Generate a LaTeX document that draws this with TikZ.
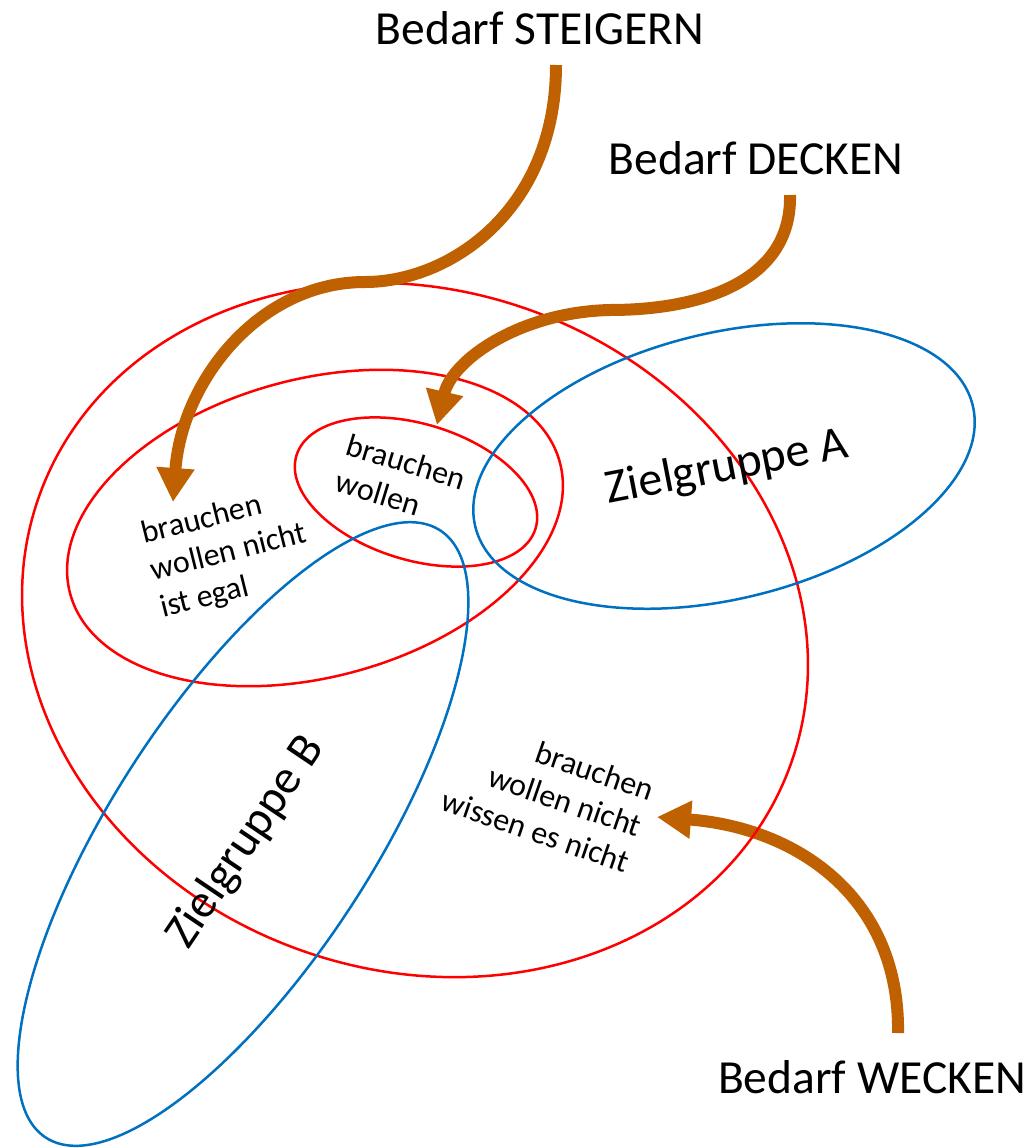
\documentclass[tikz,border=0pt]{standalone}
\usepackage{fontspec}
\setmainfont{Carlito}
\usetikzlibrary{arrows.meta}
\definecolor{arrowbrown}{RGB}{191,97,0}
\definecolor{zblue}{RGB}{0,112,192}
\begin{document}
\begin{tikzpicture}[x=1pt,y=-1pt,
  redring/.style={draw=red, line width=2.5pt},
  bluering/.style={draw=zblue, line width=2.5pt},
  bigarrow/.style={draw=arrowbrown, line width=12pt, -{Triangle[width=36pt,length=34pt]}},
  biglabel/.style={font=\fontsize{47.5}{57}\selectfont, inner sep=0pt},
  grouplabel/.style={font=\fontsize{48}{58}\selectfont, inner sep=0pt},
  smalltext/.style={font=\fontsize{32}{38}\selectfont, inner sep=0pt}]
\useasboundingbox (0,0) rectangle (1033,1148);

% labels
\node[biglabel] (steigern) at (540,28) {Bedarf STEIGERN};
\node[biglabel] (decken) at (756,158) {Bedarf DECKEN};
\node[biglabel] (wecken) at (872,1077) {Bedarf WECKEN};

% arrow coordinates
\coordinate (s1) at (556,65);
\coordinate (m1) at (365,282);
\coordinate (t1) at (173,502);
\coordinate (s2) at (790,195);
\coordinate (m2) at (610,310);
\coordinate (t2) at (437,425);
\coordinate (s3) at (898,1033);
\coordinate (t3) at (657,817);

% WECKEN arrow (below the rings)
\draw[bigarrow] (s3) .. controls (900,900) and (800,828) .. (t3);

% rings
\draw[redring, rotate around={-19.5:(415,630)}] (415,630) ellipse [x radius=399, y radius=340];
\draw[redring, rotate around={15:(315,528)}] (315,528) ellipse [x radius=253.5, y radius=149];
\draw[redring, rotate around={-17:(416,492)}] (416,492) ellipse [x radius=125, y radius=68];
\draw[bluering, rotate around={13.7:(724,466)}] (724,466) ellipse [x radius=256, y radius=133];
\draw[bluering, rotate around={57:(243,834)}] (243,834) ellipse [x radius=362, y radius=130];

% STEIGERN and DECKEN arrows (above the rings)
\draw[bigarrow] (s1) .. controls (556,210) and (450,282) .. (m1)
  .. controls (260,282) and (182,380) .. (t1);
\draw[bigarrow] (s2) .. controls (792,282) and (700,310) .. (m2)
  .. controls (520,312) and (452,360) .. (t2);

% texts
\node[grouplabel, rotate=11] (za) at (727,468) {Zielgruppe A};
\node[grouplabel, rotate=56] (zb) at (246,842) {Zielgruppe B};
\node[smalltext, rotate=-17, align=left] (core) at (401,480) {brauchen\\wollen};
\node[smalltext, rotate=14, align=left] (egal) at (229,553) {brauchen\\wollen nicht\\ist egal};
\node[smalltext, rotate=-19, align=right] (wissen) at (548,795) {brauchen\\wollen nicht\\wissen es nicht};
\end{tikzpicture}
\end{document}
